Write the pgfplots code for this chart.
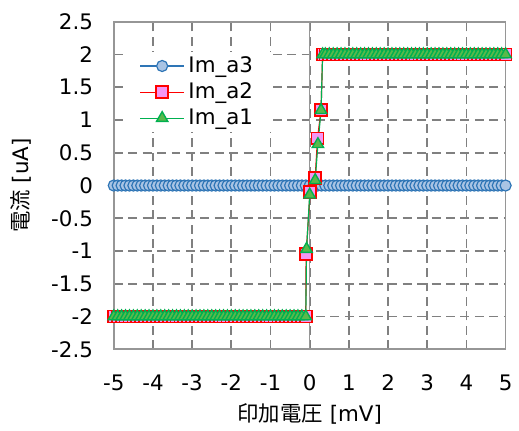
\documentclass[border=0pt]{standalone}
\usepackage{pgfplots}
\pgfplotsset{compat=1.18}
\usepackage{fontspec}
\setmainfont{DejaVu Sans}
\newfontfamily\jp{Noto Sans CJK JP}

\definecolor{gridgray}{RGB}{128,128,128}
\definecolor{axisgray}{RGB}{150,150,150}
\definecolor{aline}{RGB}{46,117,182}
\definecolor{afill}{RGB}{169,196,228}
\definecolor{bline}{RGB}{255,0,0}
\definecolor{bfill}{RGB}{245,150,245}
\definecolor{cline}{RGB}{0,176,80}
\definecolor{cfill}{RGB}{90,185,75}

\begin{document}
\begin{tikzpicture}
\begin{axis}[
    scale only axis, width=198pt, height=165.5pt,
    xmin=-5, xmax=5, ymin=-2.5, ymax=2.5,
    xtick={-5,-4,-3,-2,-1,0,1,2,3,4,5},
    ytick={-2.5,-2,-1.5,-1,-0.5,0,0.5,1,1.5,2,2.5},
    grid=major,
    major grid style={gridgray, line width=0.9pt, dash pattern=on 4.5pt off 2.8pt},
    axis line style={draw=axisgray, line width=0.8pt},
    major tick length=0pt,
    tick label style={font=\fontsize{10.8}{12}\selectfont},
    /pgf/number format/assume math mode=true,
    yticklabel style={xshift=-7pt},
    xticklabel style={yshift=-9.5pt},
    label style={font=\fontsize{10.8}{12}\selectfont},
    xlabel={{\jp 印加電圧} [mV]},
    ylabel={{\jp 電流} [uA]},
    xlabel style={at={(axis description cs:0.5,-0.197)}, anchor=center},
    ylabel style={at={(axis description cs:-0.238,0.5)}, anchor=center},
    legend style={at={(axis description cs:0.025,0.91)}, anchor=north west,
        draw=none, fill=white, inner xsep=8pt, inner ysep=0.5pt, row sep=-0.3pt,
        font=\fontsize{10.8}{12}\selectfont},
    legend cell align=left,
    legend image code/.code={\draw[mark repeat=2,mark phase=2] plot coordinates {(0pt,0pt) (11pt,0pt) (22pt,0pt)};},
]
\draw[axisgray, line width=0.5pt] (axis cs:0,-2.5) -- (axis cs:0,2.5);

\addplot[aline, line width=0.6pt, mark=*, mark size=2.8pt,
    mark options={fill=afill, draw=aline, line width=0.6pt}] coordinates {
(-5,0)(-4.9,0)(-4.8,0)(-4.7,0)(-4.6,0)(-4.5,0)(-4.4,0)(-4.3,0)(-4.2,0)(-4.1,0)
(-4,0)(-3.9,0)(-3.8,0)(-3.7,0)(-3.6,0)(-3.5,0)(-3.4,0)(-3.3,0)(-3.2,0)(-3.1,0)
(-3,0)(-2.9,0)(-2.8,0)(-2.7,0)(-2.6,0)(-2.5,0)(-2.4,0)(-2.3,0)(-2.2,0)(-2.1,0)
(-2,0)(-1.9,0)(-1.8,0)(-1.7,0)(-1.6,0)(-1.5,0)(-1.4,0)(-1.3,0)(-1.2,0)(-1.1,0)
(-1,0)(-0.9,0)(-0.8,0)(-0.7,0)(-0.6,0)(-0.5,0)(-0.4,0)(-0.3,0)(-0.2,0)(-0.1,0)
(0,0)(0.1,0)(0.2,0)(0.3,0)(0.4,0)(0.5,0)(0.6,0)(0.7,0)(0.8,0)(0.9,0)
(1,0)(1.1,0)(1.2,0)(1.3,0)(1.4,0)(1.5,0)(1.6,0)(1.7,0)(1.8,0)(1.9,0)
(2,0)(2.1,0)(2.2,0)(2.3,0)(2.4,0)(2.5,0)(2.6,0)(2.7,0)(2.8,0)(2.9,0)
(3,0)(3.1,0)(3.2,0)(3.3,0)(3.4,0)(3.5,0)(3.6,0)(3.7,0)(3.8,0)(3.9,0)
(4,0)(4.1,0)(4.2,0)(4.3,0)(4.4,0)(4.5,0)(4.6,0)(4.7,0)(4.8,0)(4.9,0)
(5,0)
};
\addlegendentry{Im\_a3}

\addplot[bline, line width=0.6pt, mark=square*, mark size=3pt,
    mark options={fill=bfill, draw=bline, line width=0.9pt}] coordinates {
(-5,-2)(-4.9,-2)(-4.8,-2)(-4.7,-2)(-4.6,-2)(-4.5,-2)(-4.4,-2)(-4.3,-2)(-4.2,-2)(-4.1,-2)
(-4,-2)(-3.9,-2)(-3.8,-2)(-3.7,-2)(-3.6,-2)(-3.5,-2)(-3.4,-2)(-3.3,-2)(-3.2,-2)(-3.1,-2)
(-3,-2)(-2.9,-2)(-2.8,-2)(-2.7,-2)(-2.6,-2)(-2.5,-2)(-2.4,-2)(-2.3,-2)(-2.2,-2)(-2.1,-2)
(-2,-2)(-1.9,-2)(-1.8,-2)(-1.7,-2)(-1.6,-2)(-1.5,-2)(-1.4,-2)(-1.3,-2)(-1.2,-2)(-1.1,-2)
(-1,-2)(-0.9,-2)(-0.8,-2)(-0.7,-2)(-0.6,-2)(-0.5,-2)(-0.4,-2)(-0.3,-2)(-0.2,-2)(-0.1,-2)
(-0.09,-1.05)(0.01,-0.1)(0.14,0.11)(0.2,0.72)(0.29,1.15)(0.33,2)
(0.4,2)(0.5,2)(0.6,2)(0.7,2)(0.8,2)(0.9,2)
(1,2)(1.1,2)(1.2,2)(1.3,2)(1.4,2)(1.5,2)(1.6,2)(1.7,2)(1.8,2)(1.9,2)
(2,2)(2.1,2)(2.2,2)(2.3,2)(2.4,2)(2.5,2)(2.6,2)(2.7,2)(2.8,2)(2.9,2)
(3,2)(3.1,2)(3.2,2)(3.3,2)(3.4,2)(3.5,2)(3.6,2)(3.7,2)(3.8,2)(3.9,2)
(4,2)(4.1,2)(4.2,2)(4.3,2)(4.4,2)(4.5,2)(4.6,2)(4.7,2)(4.8,2)(4.9,2)
(5,2)
};
\addlegendentry{Im\_a2}

\addplot[cline, line width=0.6pt, mark=triangle*, mark size=3.3pt,
    mark options={fill=cfill, draw=cline, line width=0.7pt}] coordinates {
(-5,-2)(-4.9,-2)(-4.8,-2)(-4.7,-2)(-4.6,-2)(-4.5,-2)(-4.4,-2)(-4.3,-2)(-4.2,-2)(-4.1,-2)
(-4,-2)(-3.9,-2)(-3.8,-2)(-3.7,-2)(-3.6,-2)(-3.5,-2)(-3.4,-2)(-3.3,-2)(-3.2,-2)(-3.1,-2)
(-3,-2)(-2.9,-2)(-2.8,-2)(-2.7,-2)(-2.6,-2)(-2.5,-2)(-2.4,-2)(-2.3,-2)(-2.2,-2)(-2.1,-2)
(-2,-2)(-1.9,-2)(-1.8,-2)(-1.7,-2)(-1.6,-2)(-1.5,-2)(-1.4,-2)(-1.3,-2)(-1.2,-2)(-1.1,-2)
(-1,-2)(-0.9,-2)(-0.8,-2)(-0.7,-2)(-0.6,-2)(-0.5,-2)(-0.4,-2)(-0.3,-2)(-0.2,-2)(-0.1,-2)
(-0.08,-0.97)(0,-0.14)(0.14,0.08)(0.21,0.63)(0.29,1.15)(0.33,2)
(0.4,2)(0.5,2)(0.6,2)(0.7,2)(0.8,2)(0.9,2)
(1,2)(1.1,2)(1.2,2)(1.3,2)(1.4,2)(1.5,2)(1.6,2)(1.7,2)(1.8,2)(1.9,2)
(2,2)(2.1,2)(2.2,2)(2.3,2)(2.4,2)(2.5,2)(2.6,2)(2.7,2)(2.8,2)(2.9,2)
(3,2)(3.1,2)(3.2,2)(3.3,2)(3.4,2)(3.5,2)(3.6,2)(3.7,2)(3.8,2)(3.9,2)
(4,2)(4.1,2)(4.2,2)(4.3,2)(4.4,2)(4.5,2)(4.6,2)(4.7,2)(4.8,2)(4.9,2)
(5,2)
};
\addlegendentry{Im\_a1}

\coordinate (SW) at (rel axis cs:0,0);
\coordinate (NE) at (rel axis cs:1,1);
\end{axis}
\path ([shift={(-57.5pt,-37.5pt)}]SW) rectangle ([shift={(4pt,11pt)}]NE);
\end{tikzpicture}
\end{document}
